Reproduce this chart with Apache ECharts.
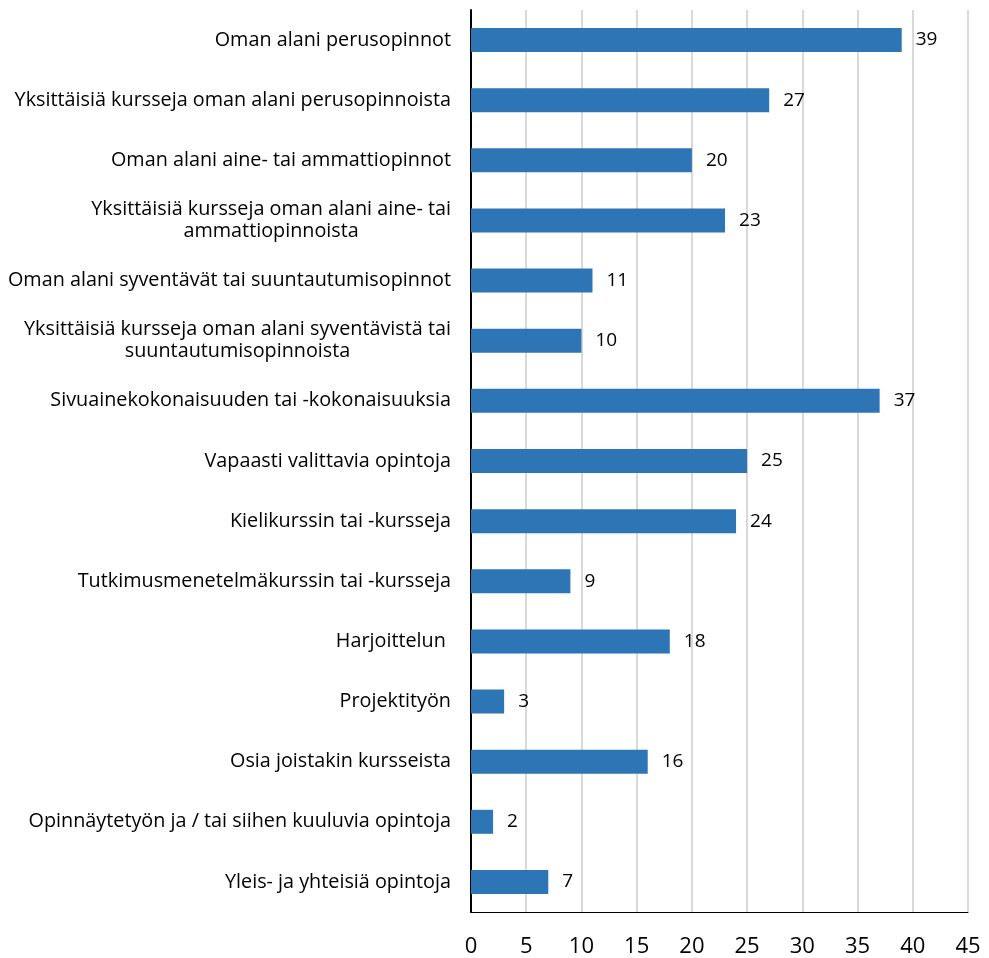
<!DOCTYPE html>
<html>
<head>
<meta charset="utf-8">
<script src="https://cdn.jsdelivr.net/npm/echarts@6/dist/echarts.min.js"></script>
<style>html,body{margin:0;padding:0;background:#fff}#c{width:989px;height:958px}</style>
</head>
<body>
<div id="c"></div>
<script>
const categories = [
  "Oman alani perusopinnot",
  "Yksittäisiä kursseja oman alani perusopinnoista",
  "Oman alani aine- tai ammattiopinnot",
  "Yksittäisiä kursseja oman alani aine- tai\nammattiopinnoista",
  "Oman alani syventävät tai suuntautumisopinnot",
  "Yksittäisiä kursseja oman alani syventävistä tai\nsuuntautumisopinnoista",
  "Sivuainekokonaisuuden tai -kokonaisuuksia",
  "Vapaasti valittavia opintoja",
  "Kielikurssin tai -kursseja",
  "Tutkimusmenetelmäkurssin tai -kursseja",
  "Harjoittelun ",
  "Projektityön",
  "Osia joistakin kursseista",
  "Opinnäytetyön ja / tai siihen kuuluvia opintoja",
  "Yleis- ja yhteisiä opintoja"
];
const values = [39, 27, 20, 23, 11, 10, 37, 25, 24, 9, 18, 3, 16, 2, 7];
const xMin = 0, xMax = 45, xStep = 5;

const lblFont = {color: '#000', fontSize: 19.8, fontFamily: 'Open Sans', lineHeight: 22};
const chart = echarts.init(document.getElementById('c'));
chart.setOption({
  animation: false,
  grid: {left: 471, right: 21, top: 10, bottom: 45, containLabel: false},
  xAxis: {
    type: 'value', min: xMin, max: xMax, interval: xStep,
    axisLine: {show: true, lineStyle: {color: '#000', width: 1}},
    axisTick: {show: false},
    axisLabel: {color: '#000', fontSize: 22, fontFamily: 'Open Sans', margin: 24},
    splitLine: {show: true, lineStyle: {color: '#d9d9d9', width: 2}}
  },
  yAxis: {
    type: 'category', data: categories, inverse: true,
    axisLine: {show: true, lineStyle: {color: '#000', width: 2}},
    axisTick: {show: false},
    axisLabel: Object.assign({
      margin: 20, align: 'right',
      formatter: function (v) {
        return v.indexOf('\n') >= 0 ? v.split('\n').map(function (s) { return '{c|' + s + '}'; }).join('\n') : v;
      },
      rich: {c: Object.assign({align: 'center'}, lblFont)}
    }, lblFont)
  },
  series: [{
    type: 'bar', data: values, barWidth: 24,
    itemStyle: {color: '#2e75b6'},
    label: {show: true, position: 'right', distance: 14, color: '#000', fontSize: 19, fontFamily: 'Open Sans'}
  }]
});
</script>
</body>
</html>
